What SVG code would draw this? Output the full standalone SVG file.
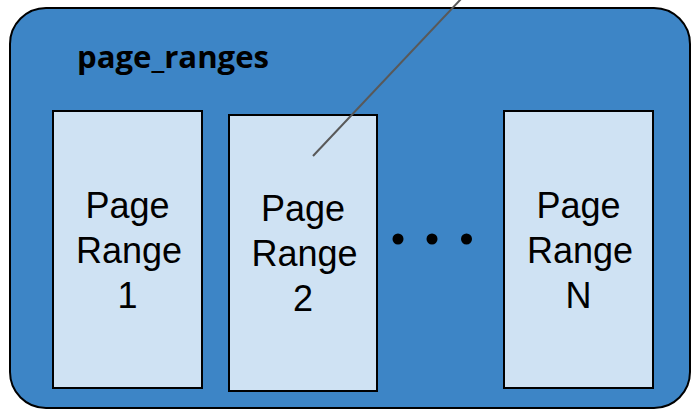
<svg xmlns="http://www.w3.org/2000/svg" width="691" height="410" viewBox="0 0 691 410">
<style>
.outer{fill:#3d85c6;stroke:#000;stroke-width:2}
.pr{fill:#cfe2f3;stroke:#000;stroke-width:2}
.lbl{font-family:"Liberation Sans",Arial,sans-serif;font-size:36px;fill:#000;text-anchor:middle}
.title{font-family:"Open Sans","Liberation Sans",sans-serif;font-weight:bold;font-size:31px;fill:#000}
.dot{fill:#000}
</style>
<g id="page_ranges">
<rect class="outer" x="10" y="8" width="680" height="400" rx="36" ry="36"/>
<text class="title" x="77" y="68" textLength="192" lengthAdjust="spacingAndGlyphs">page_ranges</text>
</g>
<g id="range1">
<rect class="pr" x="53" y="111" width="149" height="277"/>
<text class="lbl" x="127.5" y="218">Page</text>
<text class="lbl" x="129" y="263">Range</text>
<text class="lbl" x="127.5" y="308">1</text>
</g>
<g id="range2">
<rect class="pr" x="229" y="115" width="148" height="276"/>
<text class="lbl" x="303" y="221">Page</text>
<text class="lbl" x="304.5" y="266">Range</text>
<text class="lbl" x="303" y="311">2</text>
</g>
<g id="ellipsis">
<circle class="dot" cx="398" cy="239" r="5.5"/>
<circle class="dot" cx="432" cy="239" r="5.5"/>
<circle class="dot" cx="466.5" cy="239" r="5.5"/>
</g>
<g id="rangeN">
<rect class="pr" x="504" y="111" width="149" height="277"/>
<text class="lbl" x="578.5" y="218">Page</text>
<text class="lbl" x="580" y="263">Range</text>
<text class="lbl" x="578.5" y="308">N</text>
</g>
<g id="connectors">
<line x1="313" y1="156" x2="461" y2="-1" stroke="#595959" stroke-width="2"/>
</g>
</svg>
